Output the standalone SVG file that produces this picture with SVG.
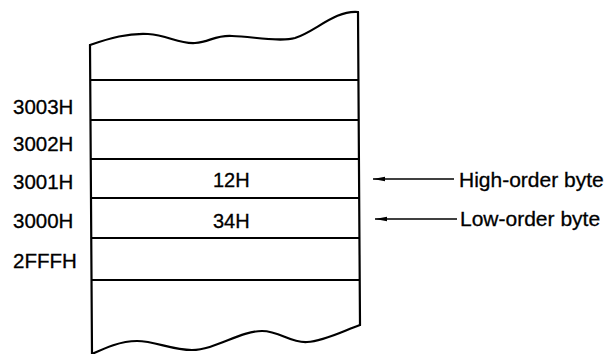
<svg xmlns="http://www.w3.org/2000/svg" width="605" height="354" viewBox="0 0 605 354">
  <style>
    .edge { fill: none; stroke: #000; stroke-width: 2.2; stroke-linecap: round; stroke-linejoin: round; }
    .rule { fill: none; stroke: #000; stroke-width: 2; }
    .ptr { fill: none; stroke: #000; stroke-width: 1.3; }
    .addr { font-family: "Liberation Sans", Arial, sans-serif; font-size: 20.5px; fill: #000; stroke: #000; stroke-width: 0.3; }
    .val { font-family: "Liberation Sans", Arial, sans-serif; font-size: 20px; fill: #000; stroke: #000; stroke-width: 0.3; }
    .note { font-family: "Liberation Sans", Arial, sans-serif; font-size: 21px; fill: #000; stroke: #000; stroke-width: 0.3; }
  </style>
  <defs>
    <!-- arrowhead: tip at x=12, pointing along the line direction -->
    <marker id="head" markerWidth="12" markerHeight="6" refX="12" refY="3" orient="auto" markerUnits="userSpaceOnUse">
      <path d="M12,3 L0,0.7 L0,5.3 Z" fill="#000"/>
    </marker>
  </defs>
  <rect width="605" height="354" fill="#fff"/>

  <!-- memory strip with torn top and bottom -->
  <g id="memory">
    <path class="edge" d="M90,45 C110,38 128,33 148,34 C168,35 178,44 195,43 C210,42 215,35 232,36 C255,37 280,42 295,38 C315,32 335,10 358,12"/>
    <path class="edge" d="M92,354 C105,348 120,341 137,341 C155,341 172,350 192,350 C215,350 240,331 262,331 C280,331 290,343 307,342 C325,341 345,330 360,325"/>
    <line class="edge" x1="90" y1="45" x2="92" y2="354"/>
    <line class="edge" x1="358" y1="12" x2="360" y2="325"/>
  </g>

  <!-- one row per byte location -->
  <g id="cell-3003H">
    <line class="rule" x1="90" y1="80" x2="358" y2="80"/>
    <text class="addr" x="13" y="114">3003H</text>
  </g>
  <g id="cell-3002H">
    <line class="rule" x1="90" y1="120" x2="358" y2="120"/>
    <text class="addr" x="13" y="151">3002H</text>
  </g>
  <g id="cell-3001H">
    <line class="rule" x1="90" y1="159" x2="359" y2="159"/>
    <text class="addr" x="13" y="189">3001H</text>
    <text class="val" x="213" y="187">12H</text>
  </g>
  <g id="cell-3000H">
    <line class="rule" x1="91" y1="198" x2="359" y2="198"/>
    <text class="addr" x="13" y="228">3000H</text>
    <text class="val" x="213" y="228">34H</text>
  </g>
  <g id="cell-2FFFH">
    <line class="rule" x1="91" y1="238" x2="359" y2="238"/>
    <line class="rule" x1="91" y1="280" x2="360" y2="280"/>
    <text class="addr" x="13" y="268">2FFFH</text>
  </g>

  <!-- byte-order labels -->
  <g id="label-high">
    <text class="note" x="459" y="187">High-order byte</text>
  </g>
  <g id="label-low">
    <text class="note" x="460" y="226">Low-order byte</text>
  </g>

  <!-- pointers from labels to cells -->
  <g id="connectors">
    <line class="ptr" x1="454" y1="179" x2="373" y2="179" marker-end="url(#head)"/>
    <line class="ptr" x1="457" y1="219" x2="375" y2="219" marker-end="url(#head)"/>
  </g>
</svg>
